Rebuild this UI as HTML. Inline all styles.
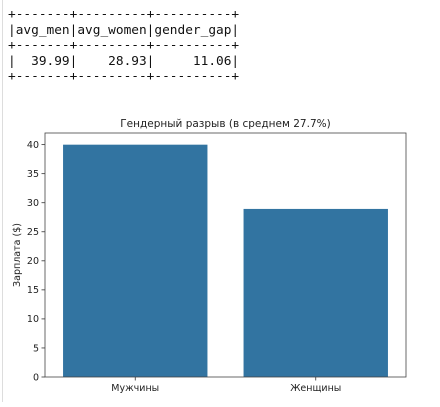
<!DOCTYPE html>
<html><head><meta charset="utf-8"><style>
body{margin:0;width:440px;height:407px;background:#fff;position:relative;overflow:hidden}
#border{position:absolute;left:2px;top:0;width:0;height:402px;border-left:1px solid #ddd}
#tbl{position:absolute;left:8px;top:7px;margin:0;font-family:"DejaVu Sans Mono","Liberation Mono",monospace;font-size:12.8px;line-height:15.6px;color:#111}
svg{position:absolute;left:0;top:0}
text{font-family:"DejaVu Sans","Liberation Sans",sans-serif;fill:#222}
</style></head><body>
<div id="border"></div>
<pre id="tbl">+-------+---------+----------+
|avg_men|avg_women|gender_gap|
+-------+---------+----------+
|  39.99|    28.93|     11.06|
+-------+---------+----------+</pre>
<svg id="chart" width="440" height="407"></svg>
<script>
const categories=["Мужчины","Женщины"];
const values=[39.99,28.93];
const yTicks=[0,5,10,15,20,25,30,35,40];
const L=45,R=406,T=133,B=377,YMAX=42;
const NS="http://www.w3.org/2000/svg";
const svg=document.getElementById('chart');
function y(v){return B-(v/YMAX)*(B-T);}
const band=(R-L)/categories.length;
function xc(i){return L+band*(i+0.5);}
function mk(t,a,txt){const e=document.createElementNS(NS,t);for(const k in a)e.setAttribute(k,a[k]);if(txt!=null)e.textContent=txt;svg.appendChild(e);return e;}
values.forEach((v,i)=>{
  const w=band*0.8;
  const r=mk('rect',{x:xc(i)-w/2,y:y(v),width:w,height:B-y(v),fill:'#3274a1'});
  
  
  mk('line',{x1:xc(i),x2:xc(i),y1:B,y2:B+3.5,stroke:'#333','stroke-width':0.8});
  const t=mk('text',{x:xc(i),y:B+14,'text-anchor':'middle','font-size':9.5},categories[i]);
  
  
});
yTicks.forEach(v=>{
  mk('line',{x1:L-3.5,x2:L,y1:y(v),y2:y(v),stroke:'#333','stroke-width':0.8});
  const t=mk('text',{x:L-6,y:y(v)+3.3,'text-anchor':'end','font-size':9.5},v);
  
  
});
const f=mk('rect',{x:L,y:T,width:R-L,height:B-T,fill:'none',stroke:'#444','stroke-width':0.8});


const yt=mk('text',{x:0,y:0,'text-anchor':'middle','font-size':9.5,transform:'translate(20,'+((T+B)/2)+') rotate(-90)'},'Зарплата ($)');


const tt=mk('text',{x:(L+R)/2,y:T-6,'text-anchor':'middle','font-size':10.5},'Гендерный разрыв (в среднем 27.7%)');


</script>
</body></html>
